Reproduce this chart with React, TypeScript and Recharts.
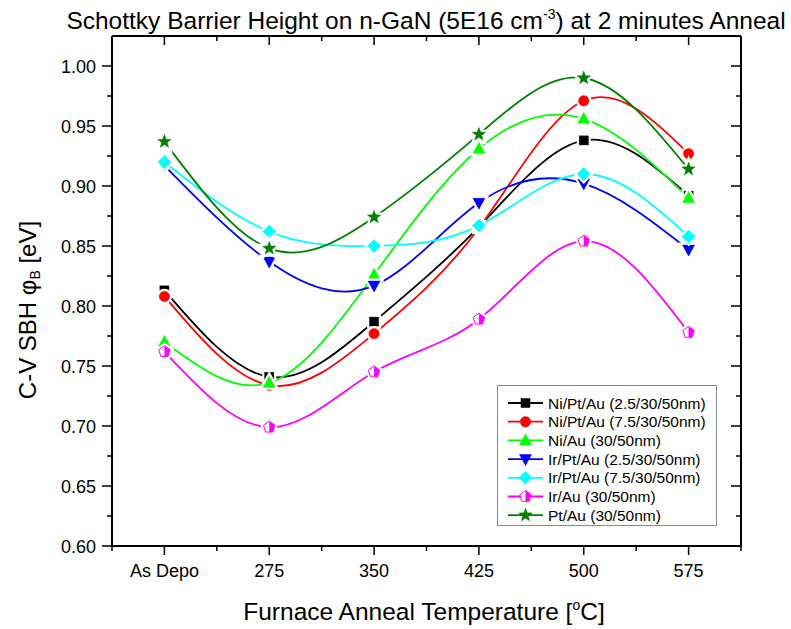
import React from "react";
import { LineChart, Line, XAxis, YAxis, Legend } from "recharts";

// annealing steps on the x axis
const categories = ["As Depo", "275", "350", "425", "500", "575"];

// barrier heights [eV]
const niPtAu25 = [0.813, 0.741, 0.787, 0.866, 0.938, 0.892];
const niPtAu75 = [0.808, 0.734, 0.777, 0.865, 0.971, 0.927];
const niAu = [0.77, 0.736, 0.826, 0.931, 0.956, 0.89];
const irPtAu25 = [0.917, 0.837, 0.817, 0.886, 0.902, 0.847];
const irPtAu75 = [0.92, 0.862, 0.85, 0.867, 0.91, 0.858];
const irAu = [0.762, 0.699, 0.745, 0.789, 0.854, 0.778];
const ptAu = [0.937, 0.848, 0.874, 0.943, 0.99, 0.914];

const xTicks = [-0.5, 0, 0.5, 1, 1.5, 2, 2.5, 3, 3.5, 4, 4.5, 5, 5.5];
const yTicks = [
  0.6, 0.625, 0.65, 0.675, 0.7, 0.725, 0.75, 0.775, 0.8, 0.825, 0.85, 0.875,
  0.9, 0.925, 0.95, 0.975, 1.0,
];

const FONT = "'Liberation Sans', Arial, sans-serif";

type Shape = "square" | "circle" | "triangle" | "triangleDown" | "diamond" | "pentagon" | "star";

const series: { key: string; name: string; color: string; shape: Shape; values: number[] }[] = [
  { key: "a", name: "Ni/Pt/Au (2.5/30/50nm)", color: "#000000", shape: "square", values: niPtAu25 },
  { key: "b", name: "Ni/Pt/Au (7.5/30/50nm)", color: "#ff0000", shape: "circle", values: niPtAu75 },
  { key: "c", name: "Ni/Au (30/50nm)", color: "#00ff00", shape: "triangle", values: niAu },
  { key: "d", name: "Ir/Pt/Au (2.5/30/50nm)", color: "#0000ff", shape: "triangleDown", values: irPtAu25 },
  { key: "e", name: "Ir/Pt/Au (7.5/30/50nm)", color: "#00ffff", shape: "diamond", values: irPtAu75 },
  { key: "f", name: "Ir/Au (30/50nm)", color: "#ff00ff", shape: "pentagon", values: irAu },
  { key: "g", name: "Pt/Au (30/50nm)", color: "#008000", shape: "star", values: ptAu },
];

const data = categories.map((label, i) => {
  const row: Record<string, number | string> = { x: i, label };
  series.forEach((s) => (row[s.key] = s.values[i]));
  return row;
});

function pts(list: number[][]) {
  return list.map((p) => p.join(",")).join(" ");
}

function shapePath(shape: Shape, cx: number, cy: number, props: any, k: string) {
  switch (shape) {
    case "square":
      return <rect key={k} x={cx - 4.5} y={cy - 4.5} width={9} height={9} {...props} />;
    case "circle":
      return <circle key={k} cx={cx} cy={cy} r={5.2} {...props} />;
    case "triangle":
      return <polygon key={k} points={pts([[cx, cy - 6.5], [cx + 6, cy + 4.5], [cx - 6, cy + 4.5]])} {...props} />;
    case "triangleDown":
      return <polygon key={k} points={pts([[cx - 6, cy - 4.5], [cx + 6, cy - 4.5], [cx, cy + 6.5]])} {...props} />;
    case "diamond":
      return <polygon key={k} points={pts([[cx, cy - 6.5], [cx + 6.5, cy], [cx, cy + 6.5], [cx - 6.5, cy]])} {...props} />;
    case "pentagon": {
      const r = 6;
      const v = [0, 1, 2, 3, 4].map((i) => {
        const a = (-90 + i * 72) * (Math.PI / 180);
        return [cx + r * Math.cos(a), cy + r * Math.sin(a)];
      });
      return <polygon key={k} points={pts(v)} {...props} />;
    }
    case "star": {
      const v: number[][] = [];
      for (let i = 0; i < 10; i++) {
        const rr = i % 2 === 0 ? 7 : 2.9;
        const a = (-90 + i * 36) * (Math.PI / 180);
        v.push([cx + rr * Math.cos(a), cy + rr * Math.sin(a)]);
      }
      return <polygon key={k} points={pts(v)} {...props} />;
    }
  }
}

function Marker({ shape, color, cx, cy, halo = true }: { shape: Shape; color: string; cx: number; cy: number; halo?: boolean }) {
  const halfPent = () => {
    const r = 6;
    const a1 = (-18 * Math.PI) / 180;
    const a2 = (54 * Math.PI) / 180;
    return (
      <polygon
        points={pts([
          [cx, cy - r],
          [cx + r * Math.cos(a1), cy + r * Math.sin(a1)],
          [cx + r * Math.cos(a2), cy + r * Math.sin(a2)],
          [cx, cy + r * Math.sin(a2)],
        ])}
        fill={color}
      />
    );
  };
  return (
    <g>
      {/* white halo gives the small gap Origin leaves round each symbol */}
      {halo && shapePath(shape, cx, cy, { fill: "#fff", stroke: "#fff", strokeWidth: 5 }, "h")}
      {shape === "pentagon"
        ? shapePath(shape, cx, cy, { fill: "#fff", stroke: color, strokeWidth: 1 }, "m")
        : shapePath(shape, cx, cy, { fill: color, stroke: color, strokeWidth: 0.5 }, "m")}
      {shape === "pentagon" && halfPent()}
    </g>
  );
}

const isMajorX = (v: number) => Number.isInteger(v);
const isMajorY = (v: number) => Math.round(v * 1000) % 50 === 0;

function BottomTick({ x, y, payload }: any) {
  const v = payload.value;
  const major = isMajorX(v);
  return (
    <g>
      <line x1={x} x2={x} y1={y} y2={y + (major ? 9 : 5)} stroke="#000" strokeWidth={1.5} />
      {major && v >= 0 && v < categories.length && (
        <text x={x} y={y + 31} textAnchor="middle" fontSize={18} fontFamily={FONT} fill="#000">
          {categories[v]}
        </text>
      )}
    </g>
  );
}

function TopTick({ x, y, payload }: any) {
  const major = isMajorX(payload.value);
  return <line x1={x} x2={x} y1={y} y2={y + (major ? 9 : 5)} stroke="#000" strokeWidth={1.5} />;
}

function LeftTick({ x, y, payload }: any) {
  const v = payload.value;
  const major = isMajorY(v);
  return (
    <g>
      <line x1={x} x2={x - (major ? 10 : 5)} y1={y} y2={y} stroke="#000" strokeWidth={1.5} />
      {major && (
        <text x={x - 16} y={y + 6.5} textAnchor="end" fontSize={18} fontFamily={FONT} fill="#000">
          {v.toFixed(2)}
        </text>
      )}
    </g>
  );
}

function RightTick({ x, y, payload }: any) {
  const major = isMajorY(payload.value);
  return <line x1={x} x2={x - (major ? 10 : 5)} y1={y} y2={y} stroke="#000" strokeWidth={1.5} />;
}

function LegendBox() {
  const rowH = 18.7;
  return (
    <div style={{ width: 220, height: 141, border: "1px solid #8a8a8a", background: "#fff", boxSizing: "border-box" }}>
      <svg width={218} height={139}>
        {series.map((s, i) => {
          const cy = 17 + i * rowH;
          return (
            <g key={s.key}>
              <line x1={10} x2={45} y1={cy} y2={cy} stroke={s.color} strokeWidth={1.8} />
              <Marker shape={s.shape} color={s.color} cx={27.5} cy={cy} halo={false} />
              <text x={50} y={cy + 5.5} fontSize={15.5} fontFamily={FONT} fill="#000">
                {s.name}
              </text>
            </g>
          );
        })}
      </svg>
    </div>
  );
}

export default function App() {
  const axisLine = { stroke: "#000", strokeWidth: 2 };
  // plot box: x 112..741, y 36..546 (axis sizes are folded into the margins)
  return (
    <div style={{ position: "absolute", left: 0, top: 0, width: 791, height: 629, background: "#fff", fontFamily: FONT }}>
      <LineChart width={791} height={629} data={data} margin={{ top: 26, right: 40, bottom: 43, left: 72 }}>
        <XAxis
          dataKey="x"
          type="number"
          domain={[-0.5, 5.5]}
          allowDataOverflow
          ticks={xTicks}
          interval={0}
          height={40}
          tickSize={0}
          tickMargin={0}
          tickLine={false}
          axisLine={axisLine}
          tick={<BottomTick />}
        />
        <XAxis
          xAxisId="top"
          orientation="top"
          dataKey="x"
          type="number"
          domain={[-0.5, 5.5]}
          allowDataOverflow
          ticks={xTicks}
          interval={0}
          height={10}
          tickSize={0}
          tickMargin={0}
          tickLine={false}
          axisLine={axisLine}
          tick={<TopTick />}
        />
        <YAxis
          type="number"
          domain={[0.6, 1.025]}
          allowDataOverflow
          ticks={yTicks}
          interval={0}
          width={40}
          tickSize={0}
          tickMargin={0}
          tickLine={false}
          axisLine={axisLine}
          tick={<LeftTick />}
        />
        <YAxis
          yAxisId="right"
          orientation="right"
          type="number"
          domain={[0.6, 1.025]}
          allowDataOverflow
          ticks={yTicks}
          interval={0}
          width={10}
          tickSize={0}
          tickMargin={0}
          tickLine={false}
          axisLine={axisLine}
          tick={<RightTick />}
        />
        {series.map((s) => (
          <Line
            key={s.key}
            type="natural"
            dataKey={s.key}
            name={s.name}
            stroke={s.color}
            strokeWidth={1.8}
            isAnimationActive={false}
            activeDot={false}
            dot={(p: any) => <Marker key={`${s.key}-${p.index}`} shape={s.shape} color={s.color} cx={p.cx} cy={p.cy} />}
          />
        ))}
        <Legend
          layout="vertical"
          align="center"
          verticalAlign="middle"
          wrapperStyle={{ left: 497, top: 385, width: 220, height: 141 }}
          content={() => <LegendBox />}
        />
      </LineChart>
      <div style={{ position: "absolute", left: 426, top: 0, transform: "translateX(-50%)", whiteSpace: "nowrap", fontSize: 24.5, lineHeight: "28px" }}>
        Schottky Barrier Height on n-GaN (5E16 cm
        <span style={{ fontSize: 14, verticalAlign: "10px" }}>-3</span>) at 2 minutes Anneal
      </div>
      <div style={{ position: "absolute", left: 424, top: 591, transform: "translateX(-50%)", whiteSpace: "nowrap", fontSize: 24.5, lineHeight: "28px" }}>
        Furnace Anneal Temperature [<span style={{ fontSize: 14, verticalAlign: "10px" }}>o</span>C]
      </div>
      <div
        style={{
          position: "absolute",
          left: 31,
          top: 310,
          transform: "translate(-50%, -50%) rotate(-90deg)",
          whiteSpace: "nowrap",
          fontSize: 24,
          lineHeight: "28px",
        }}
      >
        C-V SBH φ<span style={{ fontSize: 14, verticalAlign: "-4px" }}>B</span> [eV]
      </div>
    </div>
  );
}
